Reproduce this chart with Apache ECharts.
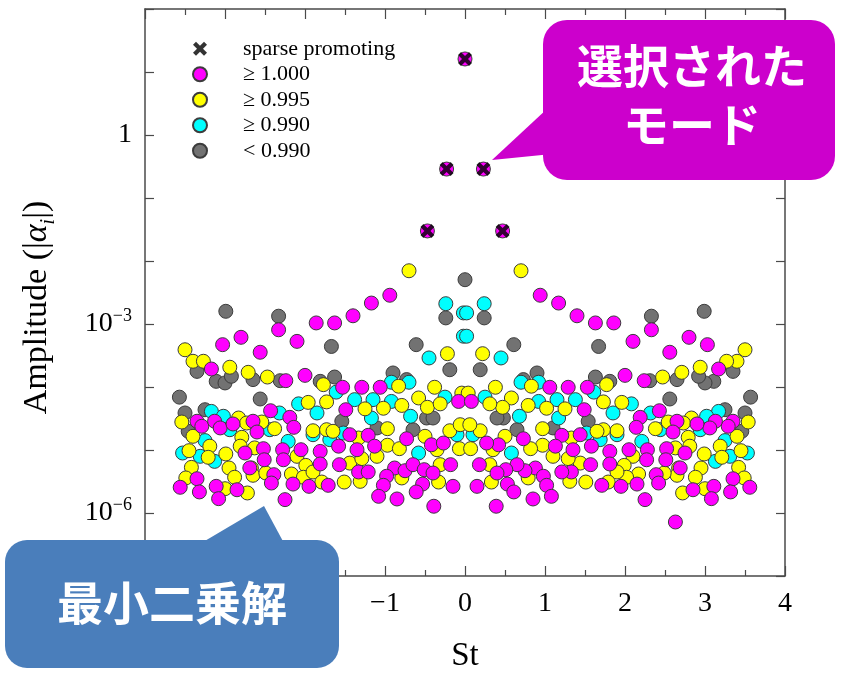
<!DOCTYPE html>
<html>
<head>
<meta charset="utf-8">
<script src="https://cdn.jsdelivr.net/npm/echarts@6/dist/echarts.min.js"></script>
<style>
  html, body { margin: 0; padding: 0; background: #fff; }
  #chart { width: 850px; height: 678px; }
</style>
</head>
<body>
<div id="chart"></div>
<script>
// Strouhal number (St) against mode amplitude |alpha_i|, grouped by eigenvalue magnitude.

// Modes kept by the sparsity-promoting selection
const promoting = [
  [-0.47, 0.030], [-0.23, 0.288], [0, 16.1], [0.23, 0.288], [0.47, 0.030]
];

// |lambda| >= 1.000
const ge1000 = [
  [-0.47, 0.030], [-0.23, 0.288], [0, 16.1], [0.23, 0.288], [0.47, 0.030],
  [-0.94, 2.86e-3], [-1.17, 2.15e-3], [-1.40, 1.35e-3], [-1.63, 1.04e-3], [-1.86, 1.04e-3],
  [-2.10, 5.3e-4], [-2.33, 8.1e-4], [-2.56, 3.56e-4], [-2.80, 6.15e-4], [-3.03, 4.7e-4],
  [-3.17, 1.93e-4], [-2.24, 1.26e-4], [-2.00, 1.53e-4], [-1.53, 9.9e-5], [-1.29, 9.9e-5],
  [-1.06, 9.9e-5], [-0.08, 5.9e-5], [-3.35, 2.86e-5], [-3.29, 2.38e-5], [-3.13, 2.86e-5],
  [-3.06, 2.24e-5], [-2.90, 2.59e-5], [-2.65, 2.86e-5], [-2.60, 1.93e-5], [-2.43, 4.2e-5],
  [-2.19, 3.3e-5], [-2.14, 2.29e-5], [-1.49, 4.36e-5], [-1.44, 1.75e-5], [-1.21, 1.71e-5],
  [-0.73, 1.51e-5], [-0.42, 1.21e-5], [-0.27, 1.29e-5], [-2.75, 8.96e-6], [-2.52, 1.05e-5],
  [-2.51, 7.0e-6], [-2.28, 1.01e-5], [-2.27, 7.0e-6], [-2.05, 1.01e-5], [-1.81, 9.5e-6],
  [-1.81, 6.0e-6], [-1.58, 1.15e-5], [-1.57, 5.85e-6], [-1.35, 1.01e-5], [-1.13, 1.15e-5],
  [-0.88, 5.18e-6], [-0.75, 4.69e-6], [-0.65, 5.85e-6], [-0.51, 4.87e-6], [-0.40, 4.31e-6],
  [-0.18, 5.85e-6], [-1.33, 4.48e-6], [-1.21, 4.48e-6], [-0.98, 3.83e-6], [-1.02, 2.75e-6],
  [-0.53, 2.88e-6], [-0.61, 2.16e-6], [-0.85, 1.67e-6], [-1.08, 1.84e-6], [-0.15, 2.65e-6],
  [-0.39, 1.28e-6], [-3.35, 3.5e-6], [-3.56, 2.56e-6], [-3.32, 2.16e-6], [-3.11, 2.65e-6],
  [-3.08, 1.69e-6], [-2.85, 2.34e-6], [-2.39, 4.06e-6], [-2.42, 2.99e-6], [-2.15, 2.88e-6],
  [-1.95, 2.65e-6], [-2.25, 1.63e-6], [-1.71, 2.75e-6], [-2.63, 7.2e-7], [-2.69, 5.2e-6],
  [0.94, 2.86e-3], [1.17, 2.15e-3], [1.40, 1.35e-3], [1.63, 1.04e-3], [1.86, 1.04e-3],
  [2.10, 5.3e-4], [2.33, 8.1e-4], [2.56, 3.56e-4], [2.80, 6.15e-4], [3.03, 4.7e-4],
  [3.17, 1.93e-4], [2.24, 1.26e-4], [2.00, 1.53e-4], [1.53, 9.9e-5], [1.29, 9.9e-5],
  [1.06, 9.9e-5], [0.08, 5.9e-5], [3.35, 2.86e-5], [3.29, 2.38e-5], [3.13, 2.86e-5],
  [3.06, 2.24e-5], [2.90, 2.59e-5], [2.65, 2.86e-5], [2.60, 1.93e-5], [2.43, 4.2e-5],
  [2.19, 3.3e-5], [2.14, 2.29e-5], [1.49, 4.36e-5], [1.44, 1.75e-5], [1.21, 1.71e-5],
  [0.73, 1.51e-5], [0.42, 1.21e-5], [0.27, 1.29e-5], [2.75, 8.96e-6], [2.52, 1.05e-5],
  [2.51, 7.0e-6], [2.28, 1.01e-5], [2.27, 7.0e-6], [2.05, 1.01e-5], [1.81, 9.5e-6],
  [1.81, 6.0e-6], [1.58, 1.15e-5], [1.57, 5.85e-6], [1.35, 1.01e-5], [1.13, 1.15e-5],
  [0.88, 5.18e-6], [0.75, 4.69e-6], [0.65, 5.85e-6], [0.51, 4.87e-6], [0.40, 4.31e-6],
  [0.18, 5.85e-6], [1.33, 4.48e-6], [1.21, 4.48e-6], [0.98, 3.83e-6], [1.02, 2.75e-6],
  [0.53, 2.88e-6], [0.61, 2.16e-6], [0.85, 1.67e-6], [1.08, 1.84e-6], [0.15, 2.65e-6],
  [0.39, 1.28e-6], [3.35, 3.5e-6], [3.56, 2.56e-6], [3.32, 2.16e-6], [3.11, 2.65e-6],
  [3.08, 1.69e-6], [2.85, 2.34e-6], [2.39, 4.06e-6], [2.42, 2.99e-6], [2.15, 2.88e-6],
  [1.95, 2.65e-6], [2.25, 1.63e-6], [1.71, 2.75e-6], [2.63, 7.2e-7], [2.69, 5.2e-6]
];

// |lambda| >= 0.995
const ge0995 = [
  [-0.70, 7.0e-3], [-3.50, 3.9e-4], [-3.40, 2.56e-4], [-3.27, 2.56e-4], [-2.94, 2.06e-4],
  [-2.71, 1.71e-4], [-2.47, 1.44e-4], [-1.77, 1.09e-4], [-0.22, 3.38e-4], [-0.83, 1.03e-4],
  [-0.38, 9.9e-5], [-1.96, 5.7e-5], [-1.73, 5.8e-5], [-0.79, 5.1e-5], [-0.58, 6.7e-5],
  [-0.47, 4.76e-5], [-0.31, 5.4e-5], [-0.04, 8.0e-5], [-3.54, 2.78e-5], [-2.83, 3.22e-5],
  [-2.73, 2.68e-5], [-2.54, 2.78e-5], [-2.38, 2.18e-5], [-1.90, 2.02e-5], [-1.73, 2.10e-5],
  [-1.65, 1.98e-5], [-1.25, 4.5e-5], [-1.02, 4.6e-5], [-0.97, 2.18e-5], [-1.33, 1.55e-5],
  [-0.50, 1.65e-5], [-0.19, 2.02e-5], [-0.06, 2.52e-5], [-0.35, 1.01e-5], [-0.07, 1.05e-5],
  [-3.40, 1.65e-5], [-3.19, 1.15e-5], [-3.45, 9.75e-6], [-3.21, 7.66e-6], [-2.99, 8.65e-6],
  [-2.79, 1.59e-5], [-2.81, 1.15e-5], [-2.63, 1.08e-5], [-2.10, 7.94e-6], [-1.99, 5.7e-6],
  [-1.44, 6.2e-6], [-1.29, 7.3e-6], [-1.10, 7.94e-6], [-0.97, 1.19e-5], [-0.82, 1.05e-5],
  [-0.31, 5.85e-6], [-0.33, 3.1e-6], [-3.42, 5.3e-6], [-3.49, 3.6e-6], [-3.00, 2.43e-6],
  [-2.95, 5.18e-6], [-2.88, 3.69e-6], [-2.72, 2.08e-6], [-2.67, 5.18e-6], [-2.65, 3.97e-6],
  [-2.49, 4.31e-6], [-2.17, 4.16e-6], [-2.02, 3.69e-6], [-1.90, 4.48e-6], [-1.79, 3.1e-6],
  [-1.51, 3.1e-6], [-1.31, 3.18e-6], [-0.79, 3.6e-6],
  [0.70, 7.0e-3], [3.50, 3.9e-4], [3.40, 2.56e-4], [3.27, 2.56e-4], [2.94, 2.06e-4],
  [2.71, 1.71e-4], [2.47, 1.44e-4], [1.77, 1.09e-4], [0.22, 3.38e-4], [0.83, 1.03e-4],
  [0.38, 9.9e-5], [1.96, 5.7e-5], [1.73, 5.8e-5], [0.79, 5.1e-5], [0.58, 6.7e-5],
  [0.47, 4.76e-5], [0.31, 5.4e-5], [0.04, 8.0e-5], [3.54, 2.78e-5], [2.83, 3.22e-5],
  [2.73, 2.68e-5], [2.54, 2.78e-5], [2.38, 2.18e-5], [1.90, 2.02e-5], [1.73, 2.10e-5],
  [1.65, 1.98e-5], [1.25, 4.5e-5], [1.02, 4.6e-5], [0.97, 2.18e-5], [1.33, 1.55e-5],
  [0.50, 1.65e-5], [0.19, 2.02e-5], [0.06, 2.52e-5], [0.35, 1.01e-5], [0.07, 1.05e-5],
  [3.40, 1.65e-5], [3.19, 1.15e-5], [3.45, 9.75e-6], [3.21, 7.66e-6], [2.99, 8.65e-6],
  [2.79, 1.59e-5], [2.81, 1.15e-5], [2.63, 1.08e-5], [2.10, 7.94e-6], [1.99, 5.7e-6],
  [1.44, 6.2e-6], [1.29, 7.3e-6], [1.10, 7.94e-6], [0.97, 1.19e-5], [0.82, 1.05e-5],
  [0.31, 5.85e-6], [0.33, 3.1e-6], [3.42, 5.3e-6], [3.49, 3.6e-6], [3.00, 2.43e-6],
  [2.95, 5.18e-6], [2.88, 3.69e-6], [2.72, 2.08e-6], [2.67, 5.18e-6], [2.65, 3.97e-6],
  [2.49, 4.31e-6], [2.17, 4.16e-6], [2.02, 3.69e-6], [1.90, 4.48e-6], [1.79, 3.1e-6],
  [1.51, 3.1e-6], [1.31, 3.18e-6], [0.79, 3.6e-6]
];

// |lambda| >= 0.990
const ge0990 = [
  [-0.02, 1.5e-3], [0.02, 1.5e-3], [-0.02, 6.4e-4], [0.02, 6.4e-4],
  [-0.24, 2.1e-3], [-0.45, 2.89e-4], [-0.92, 1.19e-4], [-0.70, 1.19e-4], [-1.61, 8.3e-5],
  [-1.38, 6.3e-5], [-1.15, 6.3e-5], [-0.92, 5.9e-5], [-0.25, 6.9e-5], [-3.17, 4.1e-5],
  [-3.02, 3.43e-5], [-2.94, 2.1e-5], [-2.44, 2.1e-5], [-2.32, 3.87e-5], [-2.08, 5.4e-5],
  [-1.85, 3.87e-5], [-1.90, 1.75e-5], [-1.52, 1.86e-5], [-1.17, 3.22e-5], [-0.68, 3.43e-5],
  [-0.10, 1.75e-5], [-3.25, 1.41e-5], [-3.53, 8.96e-6], [-3.31, 7.94e-6], [-3.13, 6.6e-6],
  [-0.58, 8.96e-6], [-2.21, 1.37e-5], [-1.69, 1.46e-5],
  [0.24, 2.1e-3], [0.45, 2.89e-4], [0.92, 1.19e-4], [0.70, 1.19e-4], [1.61, 8.3e-5],
  [1.38, 6.3e-5], [1.15, 6.3e-5], [0.92, 5.9e-5], [0.25, 6.9e-5], [3.17, 4.1e-5],
  [3.02, 3.43e-5], [2.94, 2.1e-5], [2.44, 2.1e-5], [2.32, 3.87e-5], [2.08, 5.4e-5],
  [1.85, 3.87e-5], [1.90, 1.75e-5], [1.52, 1.86e-5], [1.17, 3.22e-5], [0.68, 3.43e-5],
  [0.10, 1.75e-5], [3.25, 1.41e-5], [3.53, 8.96e-6], [3.31, 7.94e-6], [3.13, 6.6e-6],
  [0.58, 8.96e-6], [2.21, 1.37e-5], [1.69, 1.46e-5]
];

// |lambda| < 0.990
const lt0990 = [
  [0, 5.05e-3],
  [-0.24, 1.25e-3], [-0.61, 4.7e-4], [-0.19, 1.88e-4], [-2.99, 1.59e-3], [-2.33, 1.33e-3],
  [-3.35, 1.77e-4], [-3.11, 1.23e-4], [-3.00, 1.16e-4], [-2.92, 1.48e-4], [-2.65, 1.31e-4],
  [-2.31, 1.26e-4], [-1.81, 1.23e-4], [-1.63, 1.44e-4], [-1.67, 4.4e-4], [-0.90, 1.67e-4],
  [-0.73, 1.31e-4], [-3.57, 6.9e-5], [-2.56, 6.45e-5], [-3.50, 3.87e-5], [-3.25, 4.36e-5],
  [-3.46, 1.98e-5], [-1.54, 2.86e-5], [-1.10, 2.24e-5], [-0.65, 2.1e-5], [-0.48, 3.22e-5],
  [-0.40, 3.22e-5],
  [0.24, 1.25e-3], [0.61, 4.7e-4], [0.19, 1.88e-4], [2.99, 1.59e-3], [2.33, 1.33e-3],
  [3.35, 1.77e-4], [3.11, 1.23e-4], [3.00, 1.16e-4], [2.92, 1.48e-4], [2.65, 1.31e-4],
  [2.31, 1.26e-4], [1.81, 1.23e-4], [1.63, 1.44e-4], [1.67, 4.4e-4], [0.90, 1.67e-4],
  [0.73, 1.31e-4], [3.57, 6.9e-5], [2.56, 6.45e-5], [3.50, 3.87e-5], [3.25, 4.36e-5],
  [3.46, 1.98e-5], [1.54, 2.86e-5], [1.10, 2.24e-5], [0.65, 2.1e-5], [0.48, 3.22e-5],
  [0.40, 3.22e-5]
];

const legendNames = ['sparse promoting', '\u2265 1.000', '\u2265 0.995', '\u2265 0.990', '< 0.990'];

const SERIF = '"Liberation Serif", "DejaVu Serif", serif';
const JP = '"Noto Sans CJK JP", "Noto Sans CJK SC", sans-serif';
const AXIS_COLOR = '#4a4a4a';
const CROSS = 'path://M0,3 L3,0 L7,4 L11,0 L14,3 L10,7 L14,11 L11,14 L7,10 L3,14 L0,11 L4,7 Z';

function dot(name, data, color) {
  return {
    name: name, type: 'scatter', data: data,
    symbol: 'circle', symbolSize: 14,
    itemStyle: { color: color, borderColor: '#3c3c3c', borderWidth: 1, opacity: 1 },
    emphasis: { disabled: true },
    animation: false
  };
}

const chart = echarts.init(document.getElementById('chart'), null, { renderer: 'canvas' });

function minusFmt(v) { return v < 0 ? '\u2212' + Math.abs(v) : String(v); }

const option = {
  backgroundColor: '#ffffff',
  animation: false,
  grid: { left: 145, right: 65, top: 9, bottom: 98, show: false },
  legend: {
    data: legendNames.map(function (n, i) {
      return i === 0 ? { name: n, icon: CROSS } : { name: n, icon: 'circle' };
    }),
    orient: 'vertical',
    left: 187, top: 32,
    itemWidth: 14, itemHeight: 14, itemGap: 2,
    selectedMode: false,
    textStyle: { fontFamily: SERIF, fontSize: 22, lineHeight: 23.5, color: '#000', padding: [0, 0, 0, 31] }
  },
  xAxis: [{
    type: 'value', min: -4, max: 4, interval: 1,
    name: 'St', nameLocation: 'middle', nameGap: 64,
    nameTextStyle: { fontFamily: SERIF, fontSize: 33, color: '#000' },
    axisLine: { show: true, onZero: false, lineStyle: { color: AXIS_COLOR, width: 1.5 } },
    axisTick: { show: true, inside: true, length: 10, lineStyle: { color: AXIS_COLOR, width: 1.2 } },
    minorTick: { show: true, splitNumber: 2, length: 6, lineStyle: { color: AXIS_COLOR, width: 1.2 } },
    splitLine: { show: false },
    axisLabel: { fontFamily: SERIF, fontSize: 28, color: '#000', margin: 14, formatter: minusFmt }
  }, {
    type: 'value', position: 'top', min: -4, max: 4, interval: 1,
    axisLine: { show: true, onZero: false, lineStyle: { color: AXIS_COLOR, width: 1.5 } },
    axisTick: { show: true, inside: true, length: 10, lineStyle: { color: AXIS_COLOR, width: 1.2 } },
    minorTick: { show: true, splitNumber: 2, length: 6, lineStyle: { color: AXIS_COLOR, width: 1.2 } },
    splitLine: { show: false },
    axisLabel: { show: false }
  }],
  yAxis: [{
    type: 'log', logBase: 10, min: 1e-7, max: 1e2, interval: 1,
    name: 'Amplitude (|{a|\u03b1}{s|i}|)',
    nameLocation: 'middle', nameRotate: 90, nameGap: 86,
    nameTextStyle: {
      fontFamily: SERIF, fontSize: 34, color: '#000', padding: [0, 30, 0, 0],
      rich: {
        a: { fontFamily: SERIF, fontSize: 34, fontStyle: 'italic', color: '#000' },
        s: { fontFamily: SERIF, fontSize: 20, fontStyle: 'italic', color: '#000', verticalAlign: 'bottom', lineHeight: 44 }
      }
    },
    axisLine: { show: true, onZero: false, lineStyle: { color: AXIS_COLOR, width: 1.5 } },
    axisTick: { show: true, inside: true, length: 9, lineStyle: { color: AXIS_COLOR, width: 1.2 } },
    minorTick: { show: false },
    splitLine: { show: false },
    axisLabel: {
      fontFamily: SERIF, fontSize: 28, color: '#000', margin: 13,
      formatter: function (v) {
        const e = Math.round(Math.log10(v));
        if (e % 3 !== 0) return '';
        if (e === 0) return '1';
        return '10{sup|' + (e < 0 ? '\u2212' : '') + Math.abs(e) + '}';
      },
      rich: {
        sup: { fontFamily: SERIF, fontSize: 18, color: '#000', verticalAlign: 'top', lineHeight: 34 }
      }
    }
  }, {
    type: 'log', logBase: 10, min: 1e-7, max: 1e2, interval: 1, position: 'right',
    axisLine: { show: true, onZero: false, lineStyle: { color: AXIS_COLOR, width: 1.5 } },
    axisTick: { show: true, inside: true, length: 9, lineStyle: { color: AXIS_COLOR, width: 1.2 } },
    splitLine: { show: false },
    axisLabel: { show: false }
  }],
  series: [
    dot(legendNames[4], lt0990, '#727272'),
    dot(legendNames[3], ge0990, '#00ffff'),
    dot(legendNames[2], ge0995, '#ffff00'),
    dot(legendNames[1], ge1000, '#ff00ff'),
    {
      name: legendNames[0], type: 'scatter', data: promoting,
      symbol: CROSS, symbolSize: 14,
      itemStyle: { color: '#000000' },
      emphasis: { disabled: true },
      z: 5, animation: false
    }
  ],
  graphic: [
    {
      type: 'group', zlevel: 1, z: 100,
      children: [
        { type: 'polygon', zlevel: 1, shape: { points: [[548, 108], [492, 160], [552, 154]] }, style: { fill: '#cc00cc' } },
        { type: 'rect', zlevel: 1, shape: { x: 543, y: 20, width: 292, height: 160, r: 24 }, style: { fill: '#cc00cc' } },
        { type: 'text', zlevel: 1, style: { text: '選択された', x: 692, y: 66, align: 'center', verticalAlign: 'middle',
            fill: '#fff', font: 'bold 46px ' + JP } },
        { type: 'text', zlevel: 1, style: { text: 'モード', x: 692, y: 125, align: 'center', verticalAlign: 'middle',
            fill: '#fff', font: 'bold 46px ' + JP } }
      ]
    },
    {
      type: 'group', zlevel: 1, z: 100,
      children: [
        { type: 'polygon', zlevel: 1, shape: { points: [[198, 545], [264, 506], [285, 545]] }, style: { fill: '#4a7ebb' } },
        { type: 'rect', zlevel: 1, shape: { x: 5, y: 540, width: 334, height: 128, r: 22 }, style: { fill: '#4a7ebb' } },
        { type: 'text', zlevel: 1, style: { text: '最小二乗解', x: 172, y: 603, align: 'center', verticalAlign: 'middle',
            fill: '#fff', font: 'bold 46px ' + JP } }
      ]
    }
  ]
};

chart.setOption(option);
</script>
</body>
</html>
